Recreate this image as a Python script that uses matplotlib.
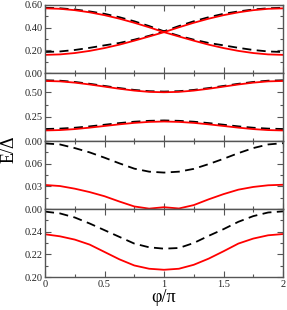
import matplotlib
matplotlib.use("Agg")
import matplotlib.pyplot as plt
from matplotlib.ticker import MultipleLocator, FixedLocator

plt.rcParams['font.family'] = ['Liberation Serif', 'DejaVu Serif']

phi = [0, 0.125, 0.25, 0.375, 0.5, 0.625, 0.75, 0.875, 1.0,
       1.125, 1.25, 1.375, 1.5, 1.625, 1.75, 1.875, 2.0]

# panel 1
p1_red_a = [0.570, 0.566, 0.554, 0.535, 0.510, 0.479, 0.443, 0.403, 0.360,
            0.322, 0.285, 0.250, 0.220, 0.195, 0.176, 0.164, 0.160]
p1_red_b = [0.160, 0.164, 0.176, 0.195, 0.220, 0.250, 0.285, 0.322, 0.360,
            0.403, 0.443, 0.479, 0.510, 0.535, 0.554, 0.566, 0.570]
p1_dash_a = [0.575, 0.571, 0.560, 0.543, 0.522, 0.492, 0.456, 0.414, 0.368,
             0.328, 0.294, 0.265, 0.244, 0.222, 0.203, 0.190, 0.185]
p1_dash_b = [0.185, 0.190, 0.203, 0.222, 0.244, 0.265, 0.294, 0.328, 0.368,
             0.414, 0.456, 0.492, 0.522, 0.543, 0.560, 0.571, 0.575]

# panel 2
p2_red_a = [0.618, 0.614, 0.601, 0.582, 0.560, 0.538, 0.519, 0.506, 0.502,
            0.506, 0.519, 0.538, 0.560, 0.582, 0.601, 0.614, 0.618]
p2_dash_a = [0.625, 0.621, 0.608, 0.589, 0.567, 0.545, 0.526, 0.513, 0.509,
             0.513, 0.526, 0.545, 0.567, 0.589, 0.608, 0.621, 0.625]
p2_red_b = [0.109, 0.113, 0.123, 0.138, 0.155, 0.172, 0.187, 0.197, 0.201,
            0.197, 0.187, 0.172, 0.155, 0.138, 0.123, 0.113, 0.109]
p2_dash_b = [0.124, 0.128, 0.137, 0.151, 0.168, 0.185, 0.199, 0.208, 0.212,
             0.208, 0.199, 0.185, 0.168, 0.151, 0.137, 0.128, 0.124]

# panel 3
p3_dash = [0.0869, 0.0855, 0.0807, 0.0750, 0.0680, 0.0605, 0.0535, 0.0495, 0.0483,
           0.0495, 0.0532, 0.0595, 0.0665, 0.0740, 0.0807, 0.0855, 0.0872]
p3_red = [0.0319, 0.0305, 0.0270, 0.0225, 0.0170, 0.0100, 0.0035, 0.0006, 0.0025,
          0.0008, 0.0053, 0.0129, 0.0198, 0.0257, 0.0293, 0.0315, 0.0322]

# panel 4
p4_dash = [0.2578, 0.2562, 0.2526, 0.2473, 0.2414, 0.2355, 0.2296, 0.2263, 0.2251,
           0.2257, 0.2301, 0.2364, 0.2423, 0.2488, 0.2538, 0.2570, 0.2580]
p4_red = [0.2378, 0.2360, 0.2331, 0.2287, 0.2222, 0.2157, 0.2103, 0.2074, 0.2065,
          0.2074, 0.2109, 0.2163, 0.2228, 0.2296, 0.2340, 0.2369, 0.2380]

xticks = [0, 0.5, 1, 1.5, 2]
xlabels = ["0", "0.5", "1", "1.5", "2"]
ylims = [(0, 0.6), (0, 0.7), (0, 0.09), (0.2, 0.26)]
yticks = [[0.0, 0.2, 0.4, 0.6], [0.0, 0.25, 0.5], [0.0, 0.03, 0.06], [0.20, 0.22, 0.24]]
ylabels = [["0.00", "0.20", "0.40", "0.60"], ["0.00", "0.25", "0.50"],
           ["0.00", "0.03", "0.06"], ["0.20", "0.22", "0.24"]]
yminor = [0.1, 0.125, 0.015, 0.01]

fig, axes = plt.subplots(4, 1, figsize=(2.87, 3.10), dpi=100, sharex=True)
fig.subplots_adjust(left=0.157, right=0.986, top=0.984, bottom=0.106, hspace=0)

red = dict(color='#ff0000', lw=1.3)
dash = dict(color='black', lw=1.3, dashes=(5, 3))

axes[0].plot(phi, p1_dash_a, **dash)
axes[0].plot(phi, p1_dash_b, **dash)
axes[0].plot(phi, p1_red_a, **red)
axes[0].plot(phi, p1_red_b, **red)

axes[1].plot(phi, p2_dash_a, **dash)
axes[1].plot(phi, p2_dash_b, **dash)
axes[1].plot(phi, p2_red_a, **red)
axes[1].plot(phi, p2_red_b, **red)

axes[2].plot(phi, p3_dash, **dash)
axes[2].plot(phi, p3_red, **red)

axes[3].plot(phi, p4_dash, **dash)
axes[3].plot(phi, p4_red, **red)

for i, ax in enumerate(axes):
    ax.set_xlim(0, 2)
    ax.set_ylim(*ylims[i])
    ax.yaxis.set_major_locator(FixedLocator(yticks[i]))
    ax.set_yticklabels(ylabels[i])
    ax.yaxis.set_minor_locator(MultipleLocator(yminor[i]))
    ax.xaxis.set_major_locator(FixedLocator(xticks))
    ax.xaxis.set_minor_locator(MultipleLocator(0.25))
    ax.tick_params(which='both', direction='in', top=True, right=True,
                   colors='#555555', labelcolor='#222222', labelsize=7.5, pad=2)
    ax.tick_params(which='major', length=4, width=0.8)
    ax.tick_params(which='minor', length=2, width=0.8)
    for s in ax.spines.values():
        s.set_color('#555555')
        s.set_linewidth(1.0)

axes[3].set_xticklabels(xlabels)
axes[3].set_xlabel(u"\u03c6/\u03c0", fontsize=13, labelpad=0)
fig.text(0.03, 0.52, u"E/\u0394", rotation=90, fontsize=13, ha='center', va='center')

fig.savefig("out.png", dpi=100)
